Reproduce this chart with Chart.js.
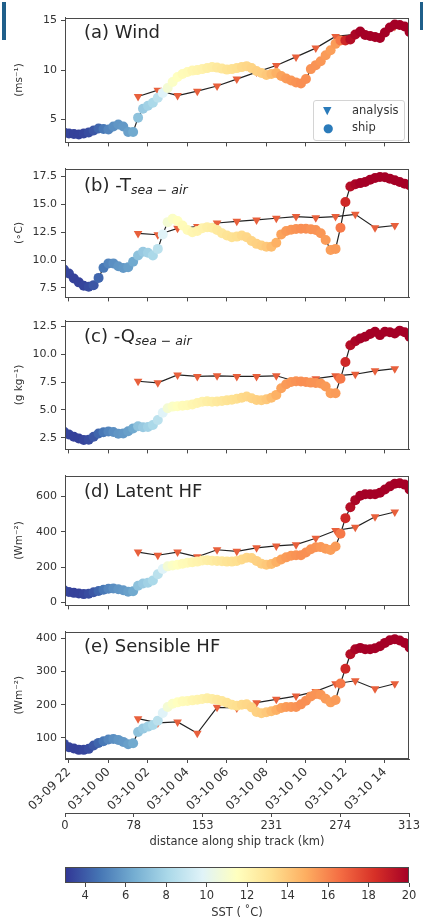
<!DOCTYPE html>
<html>
<head>
<meta charset="utf-8">
<script src="https://cdn.jsdelivr.net/npm/chart.js@4.4.0/dist/chart.umd.min.js"></script>
<style>
    body { margin: 0; background: #fff; }
    #page { position: relative; width: 423px; height: 921px; overflow: hidden; font-family: "DejaVu Sans", sans-serif; color: #262626; }
    canvas { position: absolute; left: 0; }
    .lab { position: absolute; left: 84px; font-size: 18px; line-height: 18px; white-space: nowrap; }
    .lab sub { font-size: 12.5px; font-style: italic; vertical-align: -3px; }
    #legend { position: absolute; left: 313px; top: 100px; width: 90px; height: 39px; border: 1px solid #d4d4d4; border-radius: 3px; background: rgba(255,255,255,0.85); font-size: 11.5px; color: #333; }
    #legend span { position: absolute; line-height: 14px; }
    .bar { position: absolute; background: #1f5f8a; }
</style>
</head>
<body>
<div id="page">
    <canvas id="pa" width="423" height="146" style="top:7px"></canvas>
    <canvas id="pb" width="423" height="150" style="top:158px"></canvas>
    <canvas id="pc" width="423" height="150" style="top:310px"></canvas>
    <canvas id="pd" width="423" height="151" style="top:465px"></canvas>
    <canvas id="pe" width="423" height="229" style="top:621px"></canvas>
    <canvas id="cbar" width="423" height="64" style="top:857px"></canvas>

    <div class="lab" style="top:23px">(a) Wind</div>
    <div class="lab" style="top:176px">(b) -T<sub>sea − air</sub></div>
    <div class="lab" style="top:327px">(c) -Q<sub>sea − air</sub></div>
    <div class="lab" style="top:482px">(d) Latent HF</div>
    <div class="lab" style="top:637px">(e) Sensible HF</div>

    <div id="legend">
        <span style="left:9px;top:3px;color:#2b7bba;font-size:11px">▼</span>
        <span style="left:38px;top:2px">analysis</span>
        <span style="left:9px;top:20px;color:#2b7bba;font-size:12px">●</span>
        <span style="left:38px;top:19px">ship</span>
    </div>

    <div class="bar" style="left:2px;top:2px;width:4px;height:38px"></div>
    <div class="bar" style="left:420px;top:2px;width:3px;height:28px"></div>
</div>

<script>
    // ship track, hours after 03-09 22:00
    const shipHours = [-0.25, 0, 0.25, 0.5, 0.75, 1, 1.25, 1.5, 1.75, 2,
        2.25, 2.5, 2.75, 3, 3.25, 3.5, 3.75, 4, 4.25, 4.5,
        4.75, 5, 5.25, 5.5, 5.75, 6, 6.25, 6.5, 6.75, 7,
        7.25, 7.5, 7.75, 8, 8.25, 8.5, 8.75, 9, 9.25, 9.5,
        9.75, 10, 10.25, 10.5, 10.75, 11, 11.25, 11.5, 11.75, 12,
        12.25, 12.5, 12.75, 13, 13.25, 13.5, 13.75, 14, 14.25, 14.5,
        14.75, 15, 15.25, 15.5, 15.75, 16, 16.25, 16.5, 16.75, 17,
        17.25];
    const shipSST = [3.5, 3.4, 3.3, 3.3, 3.4, 3.6, 3.9, 4.3, 4.8, 5.2,
        5.5, 5.7, 5.8, 6.0, 6.3, 7.2, 7.5, 7.8, 8.1, 8.6,
        9.8, 10.9, 11.3, 11.5, 11.7, 11.8, 12.0, 12.1, 12.2, 12.4,
        12.5, 12.7, 12.8, 13.0, 13.1, 13.2, 13.4, 13.5, 13.6, 13.7,
        13.8, 14.0, 14.4, 14.8, 15.2, 15.4, 15.5, 15.6, 15.7, 15.7,
        15.6, 15.6, 15.5, 15.4, 15.3, 15.4, 16.3, 18.6, 19.5, 19.8,
        20, 20, 20, 20, 20, 20, 20, 20, 20, 20,
        20];
    const shipWind = [3.7, 3.6, 3.55, 3.5, 3.6, 3.7, 3.9, 4.1, 4.05, 4.0,
        4.3, 4.5, 4.3, 3.75, 3.75, 5.2, 6.1, 6.4, 6.7, 7.2,
        7.7, 8.2, 8.8, 9.3, 9.6, 9.8, 9.95, 10.0, 10.1, 10.2,
        10.3, 10.25, 10.15, 10.05, 10.1, 10.2, 10.3, 10.4, 10.2, 9.9,
        9.7, 9.5, 9.6, 9.7, 9.4, 9.15, 8.95, 8.75, 8.65, 9.1,
        10.1, 10.5, 10.9, 11.5, 12.0, 12.65, 13.0, 13.0, 13.1, 13.6,
        13.9, 13.55, 13.45, 13.35, 13.25, 13.8, 14.3, 14.6, 14.55, 14.4,
        13.85];
    const shipDT = [9.15, 8.8, 8.35, 8.0, 7.7, 7.6, 7.75, 8.4, 9.3, 9.7,
        9.7, 9.45, 9.28, 9.35, 9.85, 10.4, 10.75, 10.65, 10.4, 11.0,
        12.3, 13.4, 13.7, 13.5, 13.1, 12.7, 12.5, 12.6, 12.85, 12.95,
        12.9, 12.7, 12.4, 12.2, 12.05, 12.1, 12.2, 12.05, 11.7, 11.45,
        11.3, 11.2, 11.2, 11.55, 12.3, 12.6, 12.72, 12.78, 12.8, 12.8,
        12.77, 12.7, 12.4, 11.8, 10.9, 11.0, 12.9, 15.2, 16.6, 16.8,
        16.9, 17.0, 17.2, 17.35, 17.45, 17.42, 17.3, 17.15, 17.0, 16.85,
        16.7];
    const shipDQ = [3.05, 2.8, 2.6, 2.45, 2.32, 2.33, 2.6, 2.9, 3.0, 3.08,
        3.02, 2.88, 2.9, 3.1, 3.35, 3.55, 3.45, 3.48, 3.65, 4.1,
        4.75, 5.15, 5.3, 5.33, 5.38, 5.43, 5.5, 5.62, 5.74, 5.77,
        5.74, 5.75, 5.8, 5.86, 5.92, 6.0, 6.1, 6.2, 6.05, 5.9,
        5.88, 5.95, 6.1, 6.35, 6.95, 7.3, 7.5, 7.57, 7.55, 7.5,
        7.45, 7.42, 7.37, 7.1, 6.5, 6.5, 7.8, 9.3, 10.8, 11.15,
        11.4, 11.55, 11.8, 12.0, 11.7, 12.0, 11.95, 11.85, 12.1, 11.95,
        11.55];
    const shipLHF = [70, 60, 55, 51, 48, 50, 58, 66, 73, 78,
        80, 75, 70, 62, 64, 95, 108, 112, 125, 160,
        190, 205, 210, 214, 220, 226, 229, 232, 238, 240,
        237, 236, 234, 232, 232, 236, 244, 254, 252, 236,
        220, 214, 218, 230, 244, 256, 265, 268, 268, 284,
        302, 313, 314, 305, 298, 318, 390, 478, 540, 580,
        605, 613, 613, 614, 622, 640, 658, 673, 676, 668,
        640];
    const shipSHF = [82, 72, 68, 64, 64, 67, 77, 85, 90, 95,
        97, 94, 88, 81, 84, 118, 128, 134, 139, 152,
        175, 193, 203, 207, 210, 211, 213, 215, 217, 219,
        217, 215, 211, 206, 200, 197, 200, 201, 192, 178,
        174, 177, 180, 184, 190, 193, 193, 193, 201, 212,
        225, 232, 230, 218, 207, 214, 264, 308, 352, 367,
        371, 367, 367, 370, 376, 386, 394, 397, 393, 386,
        372];

    // analysis, hourly
    const anaHours = [3.5, 4.5, 5.5, 6.5, 7.5, 8.5, 9.5, 10.5, 11.5, 12.5, 13.5, 14.5, 15.5, 16.5];
    const anaWind = [7.33, 7.97, 7.43, 7.87, 8.39, 9.09, 9.8, 10.46, 11.33, 12.22, 13.4, 13.6, 13.3, 14.4];
    const anaDT = [12.39, 12.27, 12.84, 13.0, 13.32, 13.47, 13.6, 13.75, 13.9, 13.8, 13.9, 14.1, 12.9, 13.1];
    const anaDQ = [7.57, 7.43, 8.14, 8.0, 8.06, 8.0, 8.0, 8.06, 7.55, 7.8, 8.06, 8.2, 8.5, 8.7];
    const anaLHF = [286, 268, 286, 259, 299, 290, 310, 321, 328, 364, 408, 426, 486, 513];
    const anaSHF = [158, 145, 148, 114, 192, 190, 206, 216, 226, 240, 263, 272, 248, 263];

    // axes
    const dateTicks = [0, 2, 4, 6, 8, 10, 12, 14, 16];
    const dateLabels = ['03-09 22', '03-10 00', '03-10 02', '03-10 04', '03-10 06',
        '03-10 08', '03-10 10', '03-10 12', '03-10 14'];
    const distLabels = ['0', '78', '153', '231', '274', '313'];
    const sstTicks = [4, 6, 8, 10, 12, 14, 16, 18, 20];
    const sstMin = 3, sstMax = 20;

    const rdylbu = ['#313695', '#4575b4', '#74add1', '#abd9e9', '#e0f3f8', '#ffffbf',
        '#fee090', '#fdae61', '#f46d43', '#d73027', '#a50026'];

    Chart.defaults.font.family = "'DejaVu Sans', sans-serif";
    Chart.defaults.font.size = 11;
    Chart.defaults.color = '#333';

    function hexRgb(h) {
        return [parseInt(h.substr(1, 2), 16), parseInt(h.substr(3, 2), 16), parseInt(h.substr(5, 2), 16)];
    }

    function sstColour(v) {
        let t = Math.min(1, Math.max(0, (v - sstMin) / (sstMax - sstMin))) * 10;
        let i = Math.min(9, Math.floor(t));
        let f = t - i;
        let a = hexRgb(rdylbu[i]), b = hexRgb(rdylbu[i + 1]);
        return 'rgb(' + a.map((c, k) => Math.round(c + (b[k] - c) * f)).join(',') + ')';
    }

    const shipColours = shipSST.map(sstColour);
    const lineCol = '#4a4a4a';

    const framePlugin = {
        id: 'frame',
        afterDraw(chart) {
            const a = chart.chartArea, ctx = chart.ctx;
            ctx.save();
            ctx.strokeStyle = lineCol;
            ctx.lineWidth = 1;
            ctx.strokeRect(Math.round(a.left) + 0.5, Math.round(a.top) + 0.5,
                Math.round(a.width) - 1, Math.round(a.height) - 1);
            ctx.restore();
        }
    };

    function makePanel(id, ship, ana, yMin, yMax, yTicks, dec, yTitle, last) {
        let scales = {
            x: {
                type: 'linear', min: -0.2, max: 17.22, weight: 0,
                afterBuildTicks: s => { s.ticks = dateTicks.map(v => ({ value: v })); },
                afterFit: s => { s.height = last ? 54 : 10; },
                grid: { drawOnChartArea: false, tickLength: 4, color: lineCol },
                border: { color: lineCol },
                ticks: {
                    display: last, autoSkip: false, maxRotation: 45, minRotation: 45,
                    padding: 2, font: { size: 12 },
                    callback: (v, i) => dateLabels[i]
                }
            },
            y: {
                min: yMin, max: yMax,
                afterBuildTicks: s => { s.ticks = yTicks.map(v => ({ value: v })); },
                afterFit: s => { s.width = 65; },
                grid: { drawOnChartArea: false, tickLength: 4, color: lineCol },
                border: { color: lineCol },
                ticks: { padding: 4, callback: v => v.toFixed(dec) },
                title: { display: true, text: yTitle, font: { size: 10.5 }, padding: { top: 13, bottom: 0 } }
            }
        };
        if (last) {
            scales.xd = {
                type: 'linear', position: 'bottom', min: 0, max: 5, weight: 1,
                afterBuildTicks: s => { s.ticks = distLabels.map((l, i) => ({ value: i })); },
                afterFit: s => { s.height = 37; },
                grid: { drawOnChartArea: false, tickLength: 4, color: lineCol },
                border: { color: lineCol },
                ticks: { autoSkip: false, maxRotation: 0, padding: 2, font: { size: 11.5 }, callback: (v, i) => distLabels[i] },
                title: { display: true, text: 'distance along ship track (km)', font: { size: 11.5 }, padding: { top: 0, bottom: 1 } }
            };
        }
        return new Chart(document.getElementById(id), {
            type: 'line',
            data: {
                datasets: [{
                    label: 'ship',
                    data: shipHours.map((h, i) => ({ x: h, y: ship[i] })),
                    borderColor: '#222',
                    borderWidth: 1.2,
                    pointRadius: 5,
                    pointBorderWidth: 0,
                    pointBackgroundColor: shipColours,
                    clip: 0
                }, {
                    label: 'analysis',
                    data: anaHours.map((h, i) => ({ x: h, y: ana[i] })),
                    borderColor: '#222',
                    borderWidth: 1.2,
                    pointStyle: 'triangle',
                    pointRotation: 180,
                    pointRadius: 5,
                    pointBorderWidth: 0,
                    pointBackgroundColor: '#e8603c',
                    clip: 0
                }]
            },
            options: {
                animation: false,
                responsive: false,
                events: [],
                layout: { padding: { left: 0, right: 14, top: 5, bottom: 0 } },
                plugins: { legend: { display: false }, tooltip: { enabled: false } },
                scales: scales
            },
            plugins: [framePlugin]
        });
    }

    makePanel('pa', shipWind, anaWind, 2.7, 15.3, [5, 10, 15], 0, '(ms⁻¹)', false);
    makePanel('pb', shipDT, anaDT, 6.65, 18.2, [7.5, 10, 12.5, 15, 17.5], 1, '(∘C)', false);
    makePanel('pc', shipDQ, anaDQ, 1.47, 13.0, [2.5, 5, 7.5, 10, 12.5], 1, '(g kg⁻¹)', false);
    makePanel('pd', shipLHF, anaLHF, -16, 719, [0, 200, 400, 600], 0, '(Wm⁻²)', false);
    makePanel('pe', shipSHF, anaSHF, 36.5, 420, [100, 200, 300, 400], 0, '(Wm⁻²)', true);

    // colour bar
    const gradientPlugin = {
        id: 'gradient',
        beforeDatasetsDraw(chart) {
            const a = chart.chartArea, ctx = chart.ctx;
            let g = ctx.createLinearGradient(a.left, 0, a.right, 0);
            rdylbu.forEach((c, i) => g.addColorStop(i / (rdylbu.length - 1), c));
            ctx.save();
            ctx.fillStyle = g;
            ctx.fillRect(a.left, a.top, a.width, a.height);
            ctx.restore();
        }
    };

    new Chart(document.getElementById('cbar'), {
        type: 'scatter',
        data: { datasets: [] },
        options: {
            animation: false,
            responsive: false,
            events: [],
            layout: { padding: { left: 65, right: 14, top: 10, bottom: 0 } },
            plugins: { legend: { display: false }, tooltip: { enabled: false } },
            scales: {
                x: {
                    type: 'linear', min: sstMin, max: sstMax,
                    afterBuildTicks: s => { s.ticks = sstTicks.map(v => ({ value: v })); },
                    afterFit: s => { s.height = 38; },
                    grid: { drawOnChartArea: false, tickLength: 4, color: lineCol },
                    border: { display: false },
                    ticks: { autoSkip: false, maxRotation: 0, padding: 2, font: { size: 11.5 } },
                    title: { display: true, text: 'SST ( ˚C)', font: { size: 11.5 }, padding: { top: 0, bottom: 1 } }
                },
                y: { display: false, min: 0, max: 1 }
            }
        },
        plugins: [gradientPlugin, framePlugin]
    });
</script>
</body>
</html>
